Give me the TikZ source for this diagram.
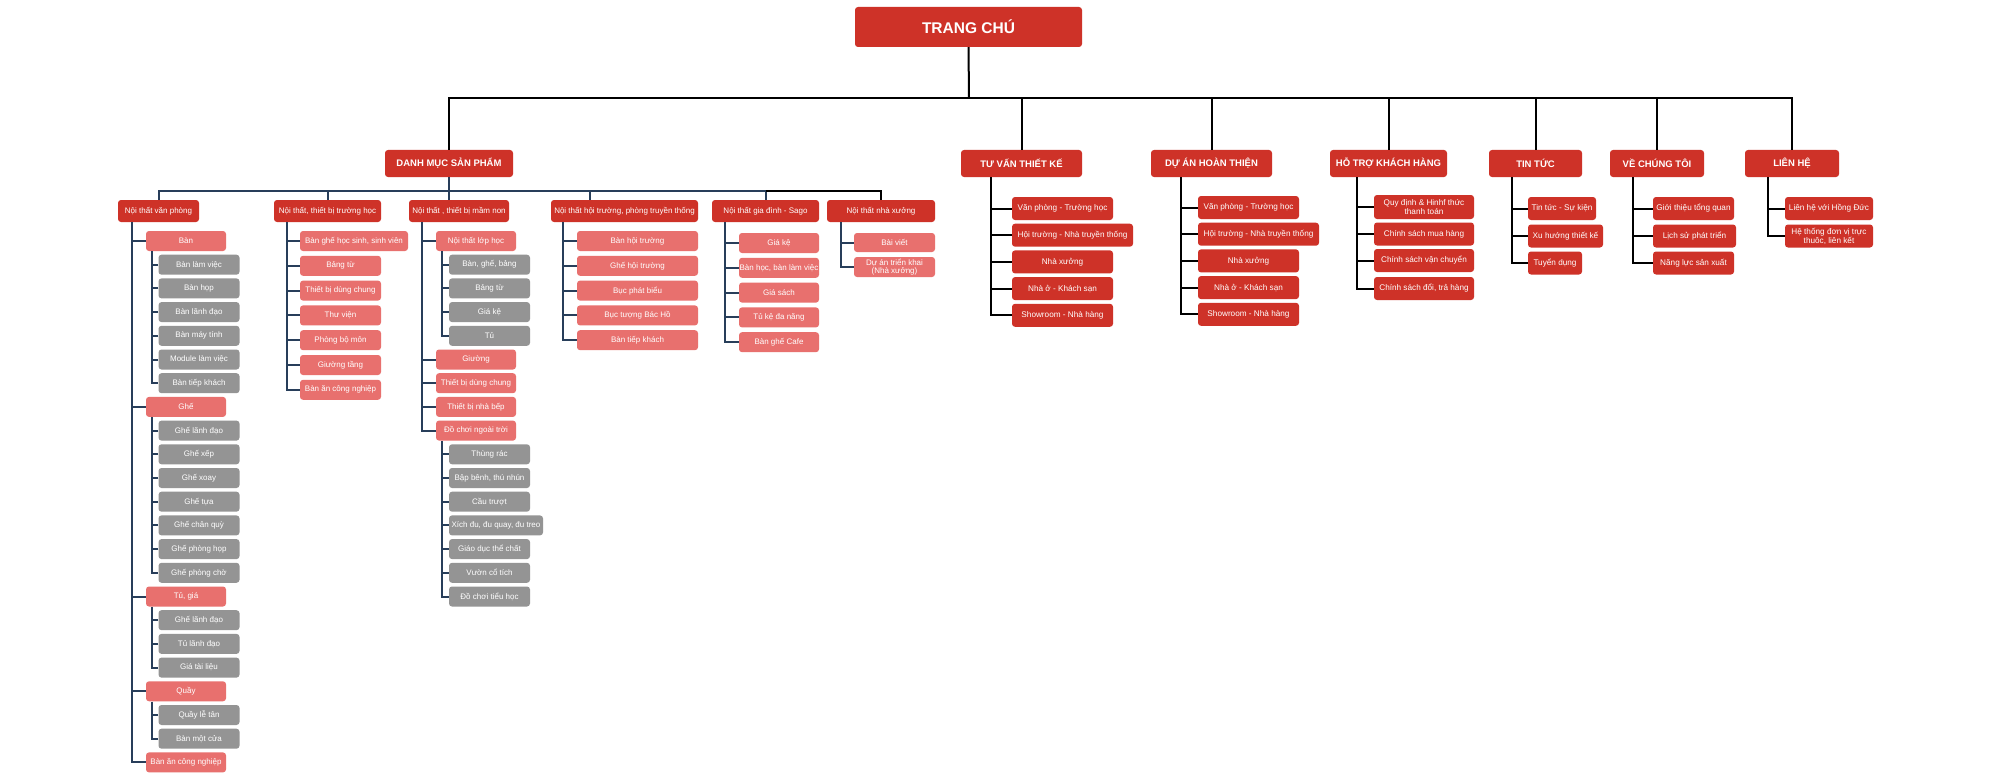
\documentclass[tikz,border=0pt]{standalone}
\usepackage{fontspec}
\setmainfont{Liberation Sans}
\definecolor{hdred}{RGB}{206,50,40}
\definecolor{pinkc}{RGB}{232,112,110}
\definecolor{grayc}{RGB}{148,148,148}
\definecolor{navyc}{RGB}{40,62,90}
\tikzset{
  basebox/.style={rounded corners=3pt, text=white, inner sep=0pt, align=center},
  lvlzero/.style={basebox, fill=hdred, font=\bfseries\fontsize{15.5}{17}\selectfont, minimum height=40pt},
  lvlone/.style={basebox, fill=hdred, font=\bfseries\fontsize{9.5}{11}\selectfont, minimum height=27pt},
  phead/.style={basebox, fill=hdred, font=\fontsize{8}{9}\selectfont, minimum height=22pt},
  pinkbox/.style={basebox, fill=pinkc, font=\fontsize{8}{9}\selectfont, minimum height=20pt, minimum width=80pt},
  greybox/.style={basebox, fill=grayc, font=\fontsize{8}{9}\selectfont, minimum height=20pt, minimum width=81pt},
  redbox/.style={basebox, fill=hdred, font=\fontsize{8.2}{9.2}\selectfont, minimum height=23pt},
  nv/.style={draw=navyc, line width=2pt},
  bk/.style={draw=black, line width=2pt}
}
\begin{document}
\begin{tikzpicture}[x=1pt,y=-1pt]
\useasboundingbox[fill=white] (0,0) rectangle (2000,781);

% ---------- top level ----------
\node[lvlzero, minimum width=227pt] (home) at (968.5,27) {TRANG CHÚ};
\coordinate (hub) at (969,98);
\node[lvlone, minimum width=128pt] (dm) at (449,163.5) {DANH MỤC SẢN PHẨM};
\node[lvlone, minimum width=121pt] (tv) at (1021.5,163.5) {TƯ VẤN THIẾT KẾ};
\node[lvlone, minimum width=121pt] (da) at (1211.5,163.5) {DỰ ÁN HOÀN THIỆN};
\node[lvlone, minimum width=117pt] (ht) at (1388.5,163.5) {HỖ TRỢ KHÁCH HÀNG};
\node[lvlone, minimum width=93pt] (tt) at (1535.5,163.5) {TIN TỨC};
\node[lvlone, minimum width=94pt] (vc) at (1657,163.5) {VỀ CHÚNG TÔI};
\node[lvlone, minimum width=94pt] (lh) at (1792,163.5) {LIÊN HỆ};
\draw[bk] (home.south) -- (hub);
\draw[bk] (dm.north) |- (hub) -| (lh.north);
\foreach \n in {tv,da,ht,tt,vc} \draw[bk] (\n.north) -- (\n.north |- hub);

% ---------- product columns ----------
\coordinate (pbus) at (449,191);
\node[phead, minimum width=81pt] (c1) at (158.5,211) {Nội thất văn phòng};
\node[phead, minimum width=107pt] (c2) at (327.5,211) {Nội thất, thiết bị trường học};
\node[phead, minimum width=100pt] (c3) at (459,211) {Nội thất , thiết bị mầm non};
\node[phead, minimum width=147pt] (c4) at (624.5,211) {Nội thất hội trường, phòng truyền thống};
\node[phead, minimum width=107pt] (c5) at (765.5,211) {Nội thất gia đình - Sago};
\node[phead, minimum width=108pt] (c6) at (881,211) {Nội thất nhà xưởng};
\coordinate (b4) at (590,191);
\draw[nv] (dm.south) -- (dm.south |- c3.north);
\draw[nv] (c1.north) |- (pbus) -| (c5.north);
\draw[nv] (b4) -- (b4 |- c4.north);
\draw[nv] (c2.north) -- (c2.north |- pbus);
\draw[bk] (c5.north |- pbus) -| (c6.north);

% ---------- column 1 : văn phòng ----------
\coordinate (t1) at (132,0);
\coordinate (s1) at (152,0);
\node[pinkbox] (v0) at (186,241) {Bàn};
\node[greybox] (v1) at (199,264.7) {Bàn làm việc};
\node[greybox] (v2) at (199,288.4) {Bàn họp};
\node[greybox] (v3) at (199,312.1) {Bàn lãnh đạo};
\node[greybox] (v4) at (199,335.8) {Bàn máy tính};
\node[greybox] (v5) at (199,359.5) {Module làm việc};
\node[greybox] (v6) at (199,383.2) {Bàn tiếp khách};
\node[pinkbox] (v7) at (186,406.9) {Ghế};
\node[greybox] (v8) at (199,430.6) {Ghế lãnh đạo};
\node[greybox] (v9) at (199,454.3) {Ghế xếp};
\node[greybox] (v10) at (199,478) {Ghế xoay};
\node[greybox] (v11) at (199,501.7) {Ghế tựa};
\node[greybox] (v12) at (199,525.4) {Ghế chân quỳ};
\node[greybox] (v13) at (199,549.1) {Ghế phòng họp};
\node[greybox] (v14) at (199,572.8) {Ghế phòng chờ};
\node[pinkbox] (v15) at (186,596.5) {Tủ, giá};
\node[greybox] (v16) at (199,620.2) {Ghế lãnh đạo};
\node[greybox] (v17) at (199,643.9) {Tủ lãnh đạo};
\node[greybox] (v18) at (199,667.6) {Giá tài liệu};
\node[pinkbox] (v19) at (186,691.3) {Quầy};
\node[greybox] (v20) at (199,715) {Quầy lễ tân};
\node[greybox] (v21) at (199,738.7) {Bàn một cửa};
\node[pinkbox] (v22) at (186,762.4) {Bàn ăn công nghiệp};
\draw[nv] (c1.south -| t1) |- (v22.west);
\foreach \n in {v0,v7,v15,v19} \draw[nv] (\n.west) -- (\n.west -| t1);
\draw[nv] (v0.south -| s1) |- (v6.west);
\foreach \n in {v1,v2,v3,v4,v5} \draw[nv] (\n.west) -- (\n.west -| s1);
\draw[nv] (v7.south -| s1) |- (v14.west);
\foreach \n in {v8,v9,v10,v11,v12,v13} \draw[nv] (\n.west) -- (\n.west -| s1);
\draw[nv] (v15.south -| s1) |- (v18.west);
\foreach \n in {v16,v17} \draw[nv] (\n.west) -- (\n.west -| s1);
\draw[nv] (v19.south -| s1) |- (v21.west);
\draw[nv] (v20.west) -- (v20.west -| s1);

% ---------- column 2 : trường học ----------
\coordinate (t2) at (287,0);
\node[pinkbox, minimum width=108pt] (w0) at (354,241) {Bàn ghế học sinh, sinh viên};
\node[pinkbox, minimum width=81pt] (w1) at (340.5,265.8) {Bảng từ};
\node[pinkbox, minimum width=81pt] (w2) at (340.5,290.6) {Thiết bị dùng chung};
\node[pinkbox, minimum width=81pt] (w3) at (340.5,315.4) {Thư viện};
\node[pinkbox, minimum width=81pt] (w4) at (340.5,340.2) {Phòng bộ môn};
\node[pinkbox, minimum width=81pt] (w5) at (340.5,365) {Giường tầng};
\node[pinkbox, minimum width=81pt] (w6) at (340.5,389.8) {Bàn ăn công nghiệp};
\draw[nv] (c2.south -| t2) |- (w6.west);
\foreach \n in {w0,w1,w2,w3,w4,w5} \draw[nv] (\n.west) -- (\n.west -| t2);

% ---------- column 3 : mầm non ----------
\coordinate (t3) at (422,0);
\coordinate (s3) at (442,0);
\node[pinkbox] (m0) at (476,241) {Nội thất lớp học};
\node[greybox] (m1) at (489.5,264.7) {Bàn, ghế, bảng};
\node[greybox] (m2) at (489.5,288.4) {Bảng từ};
\node[greybox] (m3) at (489.5,312.1) {Giá kệ};
\node[greybox] (m4) at (489.5,335.8) {Tủ};
\node[pinkbox] (m5) at (476,359.5) {Giường};
\node[pinkbox] (m6) at (476,383.2) {Thiết bị dùng chung};
\node[pinkbox] (m7) at (476,406.9) {Thiết bị nhà bếp};
\node[pinkbox] (m8) at (476,430.6) {Đồ chơi ngoài trời};
\node[greybox] (m9) at (489.5,454.3) {Thùng rác};
\node[greybox] (m10) at (489.5,478) {Bập bênh, thú nhún};
\node[greybox] (m11) at (489.5,501.7) {Cầu trượt};
\node[greybox, minimum width=94pt] (m12) at (496,525.4) {Xích đu, đu quay, đu treo};
\node[greybox] (m13) at (489.5,549.1) {Giáo dục thể chất};
\node[greybox] (m14) at (489.5,572.8) {Vườn cổ tích};
\node[greybox] (m15) at (489.5,596.5) {Đồ chơi tiểu học};
\draw[nv] (c3.south -| t3) |- (m8.west);
\foreach \n in {m0,m5,m6,m7} \draw[nv] (\n.west) -- (\n.west -| t3);
\draw[nv] (m0.south -| s3) |- (m4.west);
\foreach \n in {m1,m2,m3} \draw[nv] (\n.west) -- (\n.west -| s3);
\draw[nv] (m8.south -| s3) |- (m15.west);
\foreach \n in {m9,m10,m11,m12,m13,m14} \draw[nv] (\n.west) -- (\n.west -| s3);

% ---------- column 4 : hội trường ----------
\coordinate (t4) at (563,0);
\node[pinkbox, minimum width=121pt] (h0) at (637.5,241) {Bàn hội trường};
\node[pinkbox, minimum width=121pt] (h1) at (637.5,265.8) {Ghế hội trường};
\node[pinkbox, minimum width=121pt] (h2) at (637.5,290.6) {Bục phát biểu};
\node[pinkbox, minimum width=121pt] (h3) at (637.5,315.4) {Bục tượng Bác Hồ};
\node[pinkbox, minimum width=121pt] (h4) at (637.5,340.2) {Bàn tiếp khách};
\draw[nv] (c4.south -| t4) |- (h4.west);
\foreach \n in {h0,h1,h2,h3} \draw[nv] (\n.west) -- (\n.west -| t4);

% ---------- column 5 : Sago ----------
\coordinate (t5) at (725,0);
\node[pinkbox] (g0) at (779,243) {Giá kệ};
\node[pinkbox] (g1) at (779,267.8) {Bàn học, bàn làm việc};
\node[pinkbox] (g2) at (779,292.6) {Giá sách};
\node[pinkbox] (g3) at (779,317.4) {Tủ kệ đa năng};
\node[pinkbox] (g4) at (779,342.2) {Bàn ghế Cafe};
\draw[nv] (c5.south -| t5) |- (g4.west);
\foreach \n in {g0,g1,g2,g3} \draw[nv] (\n.west) -- (\n.west -| t5);

% ---------- column 6 : nhà xưởng ----------
\coordinate (t6) at (841,0);
\node[pinkbox, minimum width=81pt, minimum height=19pt] (x0) at (894.5,242.5) {Bài viết};
\node[pinkbox, minimum width=81pt, font=\fontsize{8}{8}\selectfont] (x1) at (894.5,267) {Dự án triển khai\\(Nhà xưởng)};
\draw[nv] (c6.south -| t6) |- (x1.west);
\draw[nv] (x0.west) -- (x0.west -| t6);

% ---------- TƯ VẤN THIẾT KẾ ----------
\coordinate (tt1) at (991,0);
\node[redbox, minimum width=101pt] (tv0) at (1062.5,208.5) {Văn phòng - Trường học};
\node[redbox, minimum width=121pt] (tv1) at (1072.5,235.2) {Hội trường - Nhà truyền thống};
\node[redbox, minimum width=101pt] (tv2) at (1062.5,261.9) {Nhà xưởng};
\node[redbox, minimum width=101pt] (tv3) at (1062.5,288.6) {Nhà ở - Khách sạn};
\node[redbox, minimum width=101pt] (tv4) at (1062.5,315.3) {Showroom - Nhà hàng};
\draw[bk] (tv.south -| tt1) |- (tv4.west);
\foreach \n in {tv0,tv1,tv2,tv3} \draw[bk] (\n.west) -- (\n.west -| tt1);

% ---------- DỰ ÁN HOÀN THIỆN ----------
\coordinate (tt2) at (1181,0);
\node[redbox, minimum width=101pt] (da0) at (1248.5,207.5) {Văn phòng - Trường học};
\node[redbox, minimum width=121pt] (da1) at (1258.5,234.2) {Hội trường - Nhà truyền thống};
\node[redbox, minimum width=101pt] (da2) at (1248.5,260.9) {Nhà xưởng};
\node[redbox, minimum width=101pt] (da3) at (1248.5,287.6) {Nhà ở - Khách sạn};
\node[redbox, minimum width=101pt] (da4) at (1248.5,314.3) {Showroom - Nhà hàng};
\draw[bk] (da.south -| tt2) |- (da4.west);
\foreach \n in {da0,da1,da2,da3} \draw[bk] (\n.west) -- (\n.west -| tt2);

% ---------- HỖ TRỢ KHÁCH HÀNG ----------
\coordinate (tt3) at (1357,0);
\node[redbox, minimum width=100pt, minimum height=24pt] (ht0) at (1424,207) {Quy định \& Hinhf thức\\thanh toán};
\node[redbox, minimum width=100pt] (ht1) at (1424,234) {Chính sách mua hàng};
\node[redbox, minimum width=100pt] (ht2) at (1424,260.5) {Chính sách vận chuyển};
\node[redbox, minimum width=100pt] (ht3) at (1424,288.5) {Chính sách đổi, trả hàng};
\draw[bk] (ht.south -| tt3) |- (ht3.west);
\foreach \n in {ht0,ht1,ht2} \draw[bk] (\n.west) -- (\n.west -| tt3);

% ---------- TIN TỨC ----------
\coordinate (tt4) at (1512,0);
\node[redbox, minimum width=68pt] (tn0) at (1562,208.5) {Tin tức - Sự kiện};
\node[redbox, minimum width=75pt] (tn1) at (1565.5,236) {Xu hướng thiết kế};
\node[redbox, minimum width=54pt] (tn2) at (1555,263) {Tuyển dụng};
\draw[bk] (tt.south -| tt4) |- (tn2.west);
\foreach \n in {tn0,tn1} \draw[bk] (\n.west) -- (\n.west -| tt4);

% ---------- VỀ CHÚNG TÔI ----------
\coordinate (tt5) at (1633,0);
\node[redbox, minimum width=81pt] (vc0) at (1693.5,208.5) {Giới thiệu tổng quan};
\node[redbox, minimum width=83pt] (vc1) at (1694.5,236) {Lịch sử phát triển};
\node[redbox, minimum width=81pt] (vc2) at (1693.5,263) {Năng lực sản xuất};
\draw[bk] (vc.south -| tt5) |- (vc2.west);
\foreach \n in {vc0,vc1} \draw[bk] (\n.west) -- (\n.west -| tt5);

% ---------- LIÊN HỆ ----------
\coordinate (tt6) at (1768,0);
\node[redbox, minimum width=88pt] (lh0) at (1829,208.5) {Liên hệ với Hồng Đức};
\node[redbox, minimum width=88pt] (lh1) at (1829,236) {Hệ thống đơn vị trực\\thuôc, liên kết};
\draw[bk] (lh.south -| tt6) |- (lh1.west);
\draw[bk] (lh0.west) -- (lh0.west -| tt6);
\end{tikzpicture}
\end{document}
